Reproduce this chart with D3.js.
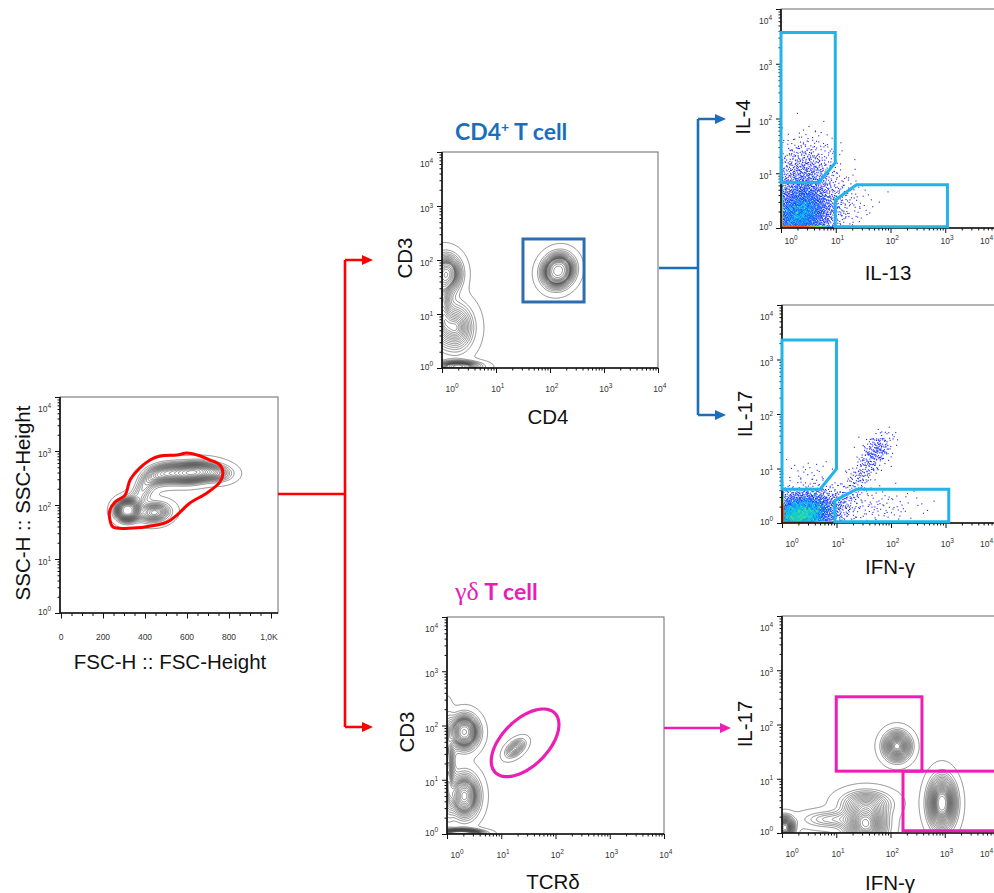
<!DOCTYPE html>
<html><head><meta charset="utf-8">
<script src="https://cdn.jsdelivr.net/npm/d3@7"></script>
<style>body{margin:0;background:#fff}svg{display:block}</style>
</head><body>
<svg id="c" width="994" height="893"></svg>
<script>
// ---------------- DATA ----------------
// tick labels
const decadeValues = [1, 10, 100, 1000, 10000];
const decadeExponents = ["0", "1", "2", "3", "4"];
const fscTickValues = [0, 200, 400, 600, 800, 1000];
const fscTickLabels = ["0", "200", "400", "600", "800", "1,0K"];

// populations (contour plots): [weight, centre X, centre log10 Y, spread X, spread log10 Y, correlation]
// FSC/SSC: X in FSC units
const scatterPops = [
  [0.18, 315, 1.90, 34, 0.12, 0.0],
  [0.12, 445, 1.86, 48, 0.12, 0.1],
  [0.08, 385, 2.25, 42, 0.22, 0.6],
  [0.14, 485, 2.58, 58, 0.13, 0.3],
  [0.28, 625, 2.60, 68, 0.12, 0.2],
  [0.06, 750, 2.58, 48, 0.10, 0.0]
];
// CD4 / CD3 : X, Y in log10 units
const cd4Pops = [
  [0.26, 2.15, 1.80, 0.17, 0.18, 0.1],
  [0.18, 0.10, 1.75, 0.16, 0.21, 0.0],
  [0.10, 0.00, 1.20, 0.10, 0.40, 0.0],
  [0.22, 0.25, 0.75, 0.21, 0.28, 0.0],
  [0.08, 0.30, 0.03, 0.25, 0.06, 0.0]
];
// TCRd / CD3
const gdPops = [
  [0.22, 0.32, 1.88, 0.16, 0.19, 0.0],
  [0.26, 0.32, 0.70, 0.17, 0.25, 0.0],
  [0.12, 0.02, 1.25, 0.07, 0.55, 0.0],
  [0.12, 0.25, 0.00, 0.24, 0.05, 0.0],
  [0.035, 1.26, 1.58, 0.12, 0.11, 0.5]
];
// gd T cells: IFN-g / IL-17
const gdCytoPops = [
  [0.10, 2.12, 1.60, 0.15, 0.16, 0.0],
  [0.22, 2.95, 0.55, 0.15, 0.28, 0.0],
  [0.22, 1.55, 0.15, 0.22, 0.23, 0.0],
  [0.06, 0.05, 0.10, 0.10, 0.12, 0.0],
  [0.04, 0.90, 0.25, 0.35, 0.10, 0.0],
  [0.08, 1.55, 0.55, 0.30, 0.15, 0.0]
];
// dot plots: [events, centre log10 X, centre log10 Y, spread X, spread Y, correlation]
const il4Events = [
  [2600, 0.35, 0.22, 0.33, 0.30, 0.15],
  [700, 0.40, 0.85, 0.30, 0.30, 0.0],
  [150, 0.50, 1.30, 0.28, 0.25, 0.0],
  [120, 1.10, 0.45, 0.30, 0.25, 0.0]
];
const il17Events = [
  [3000, 0.30, 0.12, 0.33, 0.22, 0.1],
  [400, 0.70, 0.30, 0.30, 0.18, 0.0],
  [220, 1.50, 0.95, 0.24, 0.33, 0.8],
  [130, 1.75, 1.35, 0.14, 0.15, 0.3],
  [120, 1.70, 0.30, 0.45, 0.18, 0.0],
  [25, 0.50, 0.95, 0.25, 0.12, 0.0]
];

// gates (data units)
const scatterGate = [[248,39],[343,37.5],[457,42.6],[505,48],[552,65],[614,109],[695,167],[757,267],[771,391],[757,550],[710,681],[648,843],[600,918],[552,843],[471,808],[424,681],[376,484],[329,290],[305,153],[257,113],[233,81],[233,53]];
const cd4Gate = [[31.6, 16.7], [427, 245]];
const gdGate = {cx: 27.5, cy: 47.9, a: 0.774, b: 0.424, angle: 45}; // a,b in decades
const il4Gate = [[1,3715],[9.8,3715],[9.8,15.5],[4.9,6.76],[1,6.76]];
const il13Gate = [[9.8,3.24],[24,6.17],[1096,6.17],[1096,1.05],[9.8,1.05]];
const il17Gate = [[1,2290],[10,2290],[10,9.77],[5,4.17],[1,4.17]];
const ifngGate = [[9.33,2.57],[23.4,4.17],[1148,4.17],[1148,1.05],[9.33,1.05]];
const gdIl17Gate = [[10, 13.8], [380, 324]];
const gdIfngGate = [[170, 1.1], [9000, 13.8]];

// ---------------- HELPERS ----------------
const svg = d3.select('#c');
const defs = svg.append('defs');
const FONT = '"Liberation Sans", Arial, sans-serif';
const RED = '#ff0000', BLUE = '#1a6fbb', CYAN = '#22b4e6', MAG = '#ee1db4';

const halton = (i, b) => { let f = 1, r = 0; while (i > 0) { f /= b; r += f * (i % b); i = Math.floor(i / b); } return r; };
function invNorm(p){
  const a=[-3.969683028665376e+01,2.209460984245205e+02,-2.759285104469687e+02,1.383577518672690e+02,-3.066479806614716e+01,2.506628277459239e+00];
  const b=[-5.447609879822406e+01,1.615858368580409e+02,-1.556989798598866e+02,6.680131188771972e+01,-1.328068155288572e+01];
  const c=[-7.784894002430293e-03,-3.223964580411365e-01,-2.400758277161838e+00,-2.549732539343734e+00,4.374664141464968e+00,2.938163982698783e+00];
  const d=[7.784695709041462e-03,3.224671290700398e-01,2.445134137142996e+00,3.754408661907416e+00];
  const pl=0.02425;
  if(p<pl){const q=Math.sqrt(-2*Math.log(p));return (((((c[0]*q+c[1])*q+c[2])*q+c[3])*q+c[4])*q+c[5])/((((d[0]*q+d[1])*q+d[2])*q+d[3])*q+1);}
  if(p<=1-pl){const q=p-0.5,r=q*q;return (((((a[0]*r+a[1])*r+a[2])*r+a[3])*r+a[4])*r+a[5])*q/(((((b[0]*r+b[1])*r+b[2])*r+b[3])*r+b[4])*r+1);}
  const q=Math.sqrt(-2*Math.log(1-p));return -(((((c[0]*q+c[1])*q+c[2])*q+c[3])*q+c[4])*q+c[5])/((((d[0]*q+d[1])*q+d[2])*q+d[3])*q+1);
}
function pdf(pops, x, y) {
  let s = 0;
  for (const [w, cx, cy, sx, sy, r] of pops) {
    const dx = (x - cx) / sx, dy = (y - cy) / sy, k = 1 - r * r;
    s += w / (sx * sy * Math.sqrt(k)) * Math.exp(-(dx * dx - 2 * r * dx * dy + dy * dy) / (2 * k));
  }
  return s;
}

let clipN = 0;
function makePanel(P) {
  const id = 'clip' + (clipN++);
  defs.append('clipPath').attr('id', id).append('rect')
    .attr('x', P.x0).attr('y', P.y0).attr('width', P.w).attr('height', P.h);
  P.clip = `url(#${id})`;
  P.yS = d3.scaleLog().domain([1, 1e4]).range([P.y0 + P.h, P.y0]);
  if (!P.xS) P.xS = d3.scaleLog().domain([1, 1e4]).range([P.x0, P.x0 + P.w]);
  P.g = svg.append('g');
  return P;
}
function frame(P) {
  P.g.append('rect').attr('x', P.x0).attr('y', P.y0).attr('width', P.w).attr('height', P.h)
    .attr('fill', 'none').attr('stroke', '#6a6a6a').attr('stroke-width', 1);
  P.g.append('path').attr('d', `M${P.x0},${P.y0}V${P.y0 + P.h}H${P.x0 + P.w}`)
    .attr('fill', 'none').attr('stroke', '#111').attr('stroke-width', 1.6);
}
const minorLog = [];
for (let e = 0; e < 4; e++) for (let k = 2; k <= 9; k++) minorLog.push(k * Math.pow(10, e));

function supLabel(g, x, y, exp, anchor) {
  const t = g.append('text').attr('x', x).attr('y', y).attr('font-family', FONT)
    .attr('font-size', 8.5).attr('fill', '#333').attr('text-anchor', anchor);
  t.append('tspan').text('10');
  t.append('tspan').attr('font-size', 6.5).attr('dy', -4.5).text(exp);
}
function logYAxis(P) {
  const g = P.g.append('g').attr('transform', `translate(${P.x0},0)`);
  g.append('g').call(d3.axisLeft(P.yS).tickValues(minorLog).tickSize(2.5).tickFormat(''));
  g.append('g').call(d3.axisLeft(P.yS).tickValues(decadeValues).tickSize(5).tickFormat(''));
  g.selectAll('.domain').remove();
  g.selectAll('line').attr('stroke', '#111');
  decadeValues.forEach((v, i) => {
    let y = P.yS(v) + 6;
    if (i === 4) y = P.y0 + 15;
    if (i === 0) y = P.y0 + P.h + 2;
    supLabel(P.g, P.x0 - 9, y, decadeExponents[i], 'end');
  });
}
function logXAxis(P, dy) {
  const g = P.g.append('g').attr('transform', `translate(0,${P.y0 + P.h})`);
  g.append('g').call(d3.axisBottom(P.xS).tickValues(minorLog).tickSize(2.5).tickFormat(''));
  g.append('g').call(d3.axisBottom(P.xS).tickValues(decadeValues).tickSize(5).tickFormat(''));
  g.selectAll('.domain').remove();
  g.selectAll('line').attr('stroke', '#111');
  decadeValues.forEach((v, i) => {
    let x = P.xS(v) - 4.7, anchor = 'start';
    if (i === 0) x = P.x0 + 3.5;
    if (x + 14 > 994) { x = 993; anchor = 'end'; }
    supLabel(P.g, x, P.y0 + P.h + dy, decadeExponents[i], anchor);
  });
}
function title(x, y, txt, rot) {
  const t = svg.append('text').attr('font-family', FONT).attr('font-size', 20.5).attr('fill', '#111')
    .attr('text-anchor', 'middle').text(txt);
  if (rot) t.attr('transform', `translate(${x},${y}) rotate(-90)`); else t.attr('x', x).attr('y', y);
}
const fracs = d3.range(0.04, 0.96, 0.042).concat([0.985]);
function contourPlot(P, pops, linearX) {
  const nx = Math.round(P.w), ny = Math.round(P.h);
  const vals = new Float64Array(nx * ny);
  for (let j = 0; j < ny; j++) {
    const ly = Math.log10(P.yS.invert(P.y0 + j + 0.5));
    for (let i = 0; i < nx; i++) {
      const xv = P.xS.invert(P.x0 + i + 0.5);
      const lx = linearX ? xv : Math.log10(xv);
      vals[j * nx + i] = pdf(pops, lx, ly);
    }
  }
  const sorted = Float64Array.from(vals).sort().reverse();
  const total = d3.sum(sorted);
  const levels = [];
  let cum = 0, k = 0;
  for (let i = 0; i < sorted.length && k < fracs.length; i++) {
    cum += sorted[i];
    while (k < fracs.length && cum >= fracs[k] * total) { levels.push(sorted[i]); k++; }
  }
  levels.sort((a, b) => a - b);
  const cs = d3.contours().size([nx, ny]).thresholds(levels)(vals);
  const path = d3.geoPath(d3.geoTransform({ point(x, y) { this.stream.point(P.x0 + x, P.y0 + y); } }));
  P.g.append('g').attr('clip-path', P.clip).selectAll('path').data(cs).join('path')
    .attr('d', path).attr('fill', 'none').attr('stroke', '#454545').attr('stroke-width', 0.6);
}
const dotColor = d3.scaleLinear().domain([1, 3, 5, 7, 10, 16, 30])
  .range(['#2424ee', '#0830ff', '#0068ff', '#00b0f0', '#20d8b0', '#80e050', '#ff5000']).clamp(true);
function dotPlot(P, events) {
  const pts = [];
  let off = 1;
  events.forEach(([n, cx, cy, sx, sy, r]) => {
    for (let i = 0; i < n; i++) {
      const z1 = invNorm(halton(off + i, 2)), z2 = invNorm(halton(off + i, 3));
      const lx = cx + sx * z1, ly = cy + sy * (r * z1 + Math.sqrt(1 - r * r) * z2);
      if (lx > 4 || ly > 4) continue;
      const px = lx < 0 ? P.x0 + 0.8 : P.xS(Math.pow(10, lx));
      const py = ly < 0 ? P.y0 + P.h - 0.8 : P.yS(Math.pow(10, ly));
      pts.push([px, py]);
    }
    off += n + 101;
  });
  const bins = new Map();
  pts.forEach(p => { const key = Math.floor(p[0] / 2) + ',' + Math.floor(p[1] / 2); p.key = key; bins.set(key, (bins.get(key) || 0) + 1); });
  pts.forEach(p => p.c = bins.get(p.key));
  pts.sort((a, b) => a.c - b.c);
  P.g.append('g').attr('clip-path', P.clip).selectAll('rect').data(pts).join('rect')
    .attr('x', d => d[0] - 0.55).attr('y', d => d[1] - 0.55).attr('width', 1.1).attr('height', 1.1)
    .attr('fill', d => dotColor(d.c));
}
function polyGate(P, pts, color) {
  P.g.append('path').attr('d', d3.line().x(d => P.xS(d[0])).y(d => P.yS(d[1])).curve(d3.curveLinearClosed)(pts))
    .attr('fill', 'none').attr('stroke', color).attr('stroke-width', 3).attr('stroke-linejoin', 'miter');
}
function rectGate(P, r, color, sw) {
  const x1 = P.xS(r[0][0]), x2 = P.xS(r[1][0]), y1 = P.yS(r[1][1]), y2 = P.yS(r[0][1]);
  P.g.append('rect').attr('x', x1).attr('y', y1).attr('width', x2 - x1).attr('height', y2 - y1)
    .attr('fill', 'none').attr('stroke', color).attr('stroke-width', sw || 3);
}

// ---------------- PANEL 1: FSC / SSC ----------------
const P1 = makePanel({x0: 60, y0: 397, w: 218, h: 216,
  xS: d3.scaleLinear().domain([0, 1000]).range([61, 271])});
contourPlot(P1, scatterPops, true);
frame(P1);
logYAxis(P1);
{
  const g = P1.g.append('g').attr('transform', `translate(0,${P1.y0 + P1.h})`);
  g.append('g').call(d3.axisBottom(P1.xS).tickValues(d3.range(0, 1001, 50)).tickSize(3).tickFormat(''));
  g.append('g').call(d3.axisBottom(P1.xS).tickValues(fscTickValues).tickSize(5.5).tickFormat(''));
  g.selectAll('.domain').remove();
  g.selectAll('line').attr('stroke', '#111');
  fscTickValues.forEach((v, i) => {
    P1.g.append('text').attr('x', P1.xS(v) + (i === 5 ? -2 : 0)).attr('y', P1.y0 + P1.h + 27)
      .attr('font-family', FONT).attr('font-size', 8.5).attr('fill', '#333').attr('text-anchor', 'middle')
      .text(fscTickLabels[i]);
  });
}
P1.g.append('path').attr('d', d3.line().x(d => P1.xS(d[0])).y(d => P1.yS(d[1])).curve(d3.curveCatmullRomClosed.alpha(0.5))(scatterGate))
  .attr('fill', 'none').attr('stroke', RED).attr('stroke-width', 3);
title(30, 503, 'SSC-H :: SSC-Height', true);
title(170, 669, 'FSC-H :: FSC-Height');

// ---------------- PANEL 2: CD4 / CD3 ----------------
const P2 = makePanel({x0: 442, y0: 152, w: 216, h: 216});
contourPlot(P2, cd4Pops, false);
frame(P2);
logYAxis(P2);
logXAxis(P2, 24);
rectGate(P2, cd4Gate, '#2f6db3', 3);
title(412, 258, 'CD3', true);
title(548, 424, 'CD4');

// ---------------- PANEL 3: TCRd / CD3 ----------------
const P3 = makePanel({x0: 447, y0: 617, w: 217, h: 217});
contourPlot(P3, gdPops, false);
frame(P3);
logYAxis(P3);
logXAxis(P3, 24);
{
  const lcx = Math.log10(gdGate.cx), lcy = Math.log10(gdGate.cy), th = gdGate.angle * Math.PI / 180;
  const pts = d3.range(0, 360, 3).map(t => {
    const a = t * Math.PI / 180;
    const lx = lcx + gdGate.a * Math.cos(a) * Math.cos(th) - gdGate.b * Math.sin(a) * Math.sin(th);
    const ly = lcy + gdGate.a * Math.cos(a) * Math.sin(th) + gdGate.b * Math.sin(a) * Math.cos(th);
    return [Math.pow(10, lx), Math.pow(10, ly)];
  });
  P3.g.append('path').attr('d', d3.line().x(d => P3.xS(d[0])).y(d => P3.yS(d[1])).curve(d3.curveCardinalClosed)(pts))
    .attr('fill', 'none').attr('stroke', MAG).attr('stroke-width', 3.2);
}
title(414, 732, 'CD3', true);
title(553, 889, 'TCRδ');

// ---------------- PANEL 4: IL-13 / IL-4 ----------------
const P4 = makePanel({x0: 781, y0: 9, w: 219, h: 219});
dotPlot(P4, il4Events);
frame(P4);
logYAxis(P4);
logXAxis(P4, 16);
polyGate(P4, il4Gate, CYAN);
polyGate(P4, il13Gate, CYAN);
title(750, 117, 'IL-4', true);
title(888, 280, 'IL-13');

// ---------------- PANEL 5: IFN-g / IL-17 (CD4) ----------------
const P5 = makePanel({x0: 782, y0: 305, w: 218, h: 218});
dotPlot(P5, il17Events);
frame(P5);
logYAxis(P5);
logXAxis(P5, 24);
polyGate(P5, il17Gate, CYAN);
polyGate(P5, ifngGate, CYAN);
title(752, 414, 'IL-17', true);
title(890, 574, 'IFN-γ');

// ---------------- PANEL 6: IFN-g / IL-17 (gd) ----------------
const P6 = makePanel({x0: 782, y0: 616, w: 217, h: 217});
contourPlot(P6, gdCytoPops, false);
frame(P6);
logYAxis(P6);
logXAxis(P6, 24);
rectGate(P6, gdIl17Gate, MAG, 3);
rectGate(P6, gdIfngGate, MAG, 3);
title(752, 724, 'IL-17', true);
title(890, 890, 'IFN-γ');

// ---------------- TITLES ----------------
{
  const t = svg.append('text').attr('x', 455).attr('y', 140).attr('font-family', 'Lato, "Open Sans", sans-serif')
    .attr('font-weight', 700).attr('font-size', 23).attr('fill', '#1a6fbd');
  t.append('tspan').text('CD4');
  t.append('tspan').attr('font-size', 14).attr('dy', -8).text('+');
  t.append('tspan').attr('dy', 8).text(' T cell');
  const u = svg.append('text').attr('x', 455).attr('y', 600).attr('fill', '#e91db6').attr('font-size', 23);
  u.append('tspan').attr('font-family', '"Liberation Serif", "DejaVu Serif", serif').attr('font-size', 26).text('γδ');
  u.append('tspan').attr('font-family', 'Lato, "Open Sans", sans-serif').attr('font-weight', 700).text(' T cell');
}

// ---------------- ARROWS ----------------
function arrowPath(d, color, w) {
  svg.append('path').attr('d', d).attr('fill', 'none').attr('stroke', color).attr('stroke-width', w);
}
function head(x, y, color) {
  svg.append('path').attr('d', `M${x},${y}L${x - 11},${y - 5}L${x - 11},${y + 5}Z`).attr('fill', color);
}
arrowPath('M278,494H345M345,260V727M345,260H363M345,727H363', RED, 2.6);
head(373, 260, RED); head(373, 727, RED);
arrowPath('M659,268H698M698,119V415M698,119H716M698,415H716', BLUE, 2.6);
head(726, 119, BLUE); head(726, 415, BLUE);
arrowPath('M664,728H721', MAG, 2.6);
head(731, 728, MAG);
</script>
</body></html>
